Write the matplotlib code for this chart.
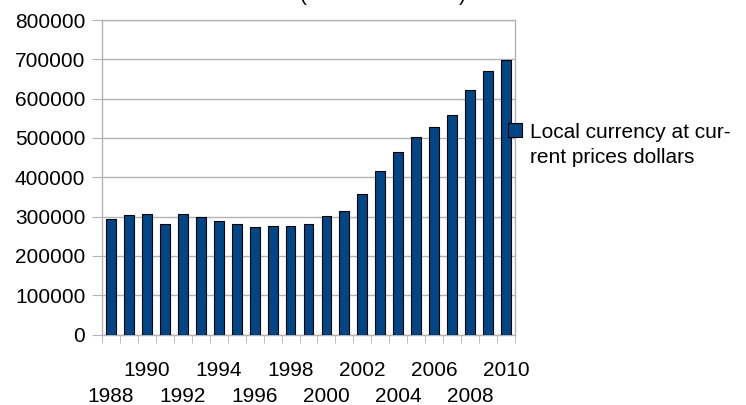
import matplotlib
matplotlib.use("Agg")
import matplotlib.pyplot as plt
from matplotlib.patches import Patch

plt.rcParams['font.family'] = ['Liberation Sans', 'DejaVu Sans']

years = list(range(1988, 2011))
values = [293000, 305000, 307500, 281000, 306000, 298000, 288000, 280500,
          272500, 277000, 275000, 282000, 302000, 313000, 356500, 415000,
          464000, 503000, 528000, 557500, 621500, 669000, 698500]
series_name = "Local currency at cur-\nrent prices dollars"
yticks = list(range(0, 800001, 100000))

bar_color = "#004586"
grid_color = "#b3b3b3"

fig = plt.figure(figsize=(7.46, 4.05), dpi=100)
ax = fig.add_axes([102/746, 1 - 334.5/405, (515-102)/746, (334.5-20)/405])

x = list(range(len(years)))
ax.bar(x, values, width=0.55, color=bar_color, edgecolor="black", linewidth=0.8, zorder=3)

ax.set_xlim(-0.5, len(years) - 0.5)
ax.set_ylim(0, 800000)
ax.set_yticks(yticks)
ax.set_yticklabels([str(v) for v in yticks])
ax.yaxis.grid(True, color=grid_color, linewidth=1.0, zorder=0)

# x labels: even years, alternating rows
lab_pos = [i for i, y in enumerate(years) if (y - 1988) % 2 == 0]
upper = [i for k, i in enumerate(lab_pos) if k % 2 == 1]
lower = [i for k, i in enumerate(lab_pos) if k % 2 == 0]

ax.set_xticks(upper)
ax.set_xticklabels([str(years[i]) for i in upper])
ax.tick_params(axis='x', which='major', length=0, pad=19, labelsize=15)
ax.set_xticks([i - 0.5 for i in range(len(years) + 1)], minor=True)
ax.tick_params(axis='x', which='minor', length=6, color=grid_color, direction='out')
ax.tick_params(axis='y', length=7, color=grid_color, direction='out', pad=5, labelsize=15)

sec = ax.secondary_xaxis('bottom')
sec.set_xticks(lower)
sec.set_xticklabels([str(years[i]) for i in lower])
sec.tick_params(axis='x', length=0, pad=38, labelsize=15)
sec.spines['bottom'].set_visible(False)

for s in ax.spines.values():
    s.set_color(grid_color)
    s.set_linewidth(1.0)

leg = fig.legend(handles=[Patch(facecolor=bar_color, edgecolor="black", linewidth=0.8)],
                 labels=[series_name], loc='upper left',
                 bbox_to_anchor=(508/746, 1 - 123/405), frameon=False, fontsize=15,
                 handlelength=0.65, handleheight=0.65, handletextpad=0.4,
                 borderpad=0, borderaxespad=0)
for t in leg.get_texts():
    t.set_linespacing(1.4)
for col in leg._legend_handle_box.get_children():
    for hp in col.get_children():
        hp.align = 'top'

# title, clipped off the top of the canvas
fig.text(300/746, 1 - 0.8/405, "(", fontsize=15, ha='left', va='baseline')
fig.text(459/746, 1 - 0.8/405, ")", fontsize=15, ha='left', va='baseline')

fig.savefig("out.png", dpi=100)
